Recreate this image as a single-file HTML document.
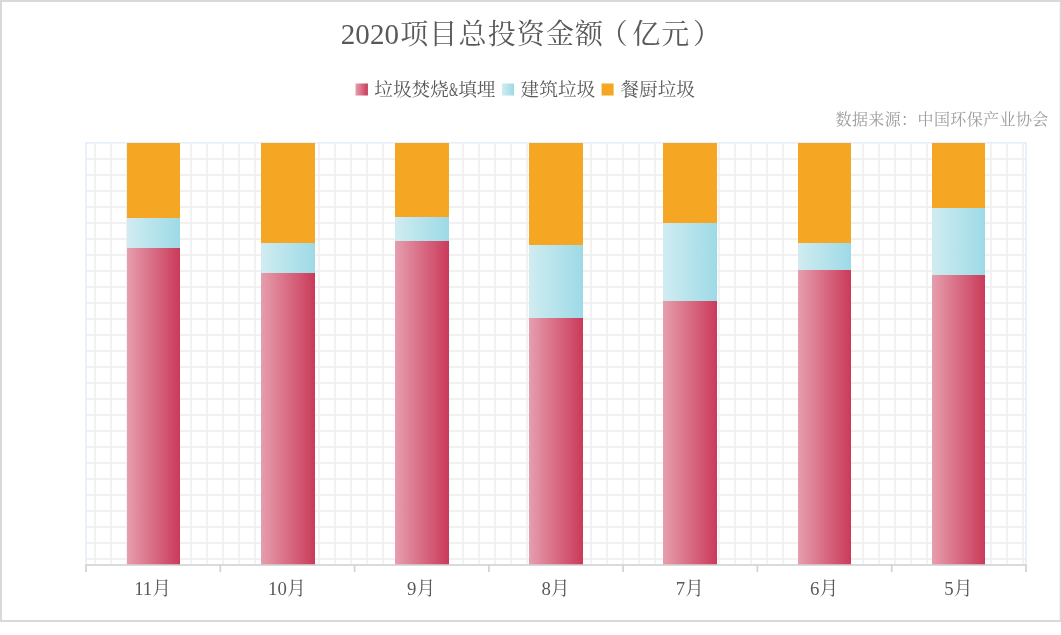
<!DOCTYPE html>
<html lang="zh-CN"><head><meta charset="utf-8"><title>2020项目总投资金额（亿元）</title>
<style>
html,body{margin:0;padding:0;background:#fff;}
body{width:1061px;height:635px;overflow:hidden;position:relative;}
svg{position:absolute;left:0;top:0;display:block;}
text{font-family:"Liberation Serif","Noto Serif CJK SC","Noto Sans CJK SC",serif;font-weight:400;}
.t{font-size:28px;fill:#595959;letter-spacing:1.15px;}
.l{font-size:18.67px;fill:#595959;}
.a{font-size:18.8px;fill:#595959;}
.s{font-size:16px;fill:#9c9c9c;letter-spacing:0.4px;font-weight:400;}
</style></head><body>
<svg width="1061" height="635" viewBox="0 0 1061 635">
<defs>
<linearGradient id="gr" x1="0" y1="0" x2="1" y2="0"><stop offset="0" stop-color="#e69eae"/><stop offset="1" stop-color="#ca3a5a"/></linearGradient>
<linearGradient id="gb" x1="0" y1="0" x2="1" y2="0"><stop offset="0" stop-color="#d0ecf1"/><stop offset="1" stop-color="#9ddae6"/></linearGradient>
</defs>
<rect x="0" y="0" width="1061" height="635" fill="#fff"/>
<path d="M95.0 142.8V565.0M111.0 142.8V565.0M127.0 142.8V565.0M143.0 142.8V565.0M159.0 142.8V565.0M175.0 142.8V565.0M191.0 142.8V565.0M207.0 142.8V565.0M223.0 142.8V565.0M239.0 142.8V565.0M255.0 142.8V565.0M271.0 142.8V565.0M287.0 142.8V565.0M303.0 142.8V565.0M319.0 142.8V565.0M335.0 142.8V565.0M351.0 142.8V565.0M367.0 142.8V565.0M383.0 142.8V565.0M399.0 142.8V565.0M415.0 142.8V565.0M431.0 142.8V565.0M447.0 142.8V565.0M463.0 142.8V565.0M479.0 142.8V565.0M495.0 142.8V565.0M511.0 142.8V565.0M527.0 142.8V565.0M543.0 142.8V565.0M559.0 142.8V565.0M575.0 142.8V565.0M591.0 142.8V565.0M607.0 142.8V565.0M623.0 142.8V565.0M639.0 142.8V565.0M655.0 142.8V565.0M671.0 142.8V565.0M687.0 142.8V565.0M703.0 142.8V565.0M719.0 142.8V565.0M735.0 142.8V565.0M751.0 142.8V565.0M767.0 142.8V565.0M783.0 142.8V565.0M799.0 142.8V565.0M815.0 142.8V565.0M831.0 142.8V565.0M847.0 142.8V565.0M863.0 142.8V565.0M879.0 142.8V565.0M895.0 142.8V565.0M911.0 142.8V565.0M927.0 142.8V565.0M943.0 142.8V565.0M959.0 142.8V565.0M975.0 142.8V565.0M991.0 142.8V565.0M1007.0 142.8V565.0M1023.0 142.8V565.0M86.0 159.0H1026.0M86.0 175.0H1026.0M86.0 191.0H1026.0M86.0 207.0H1026.0M86.0 223.0H1026.0M86.0 239.0H1026.0M86.0 255.0H1026.0M86.0 271.0H1026.0M86.0 287.0H1026.0M86.0 303.0H1026.0M86.0 319.0H1026.0M86.0 335.0H1026.0M86.0 351.0H1026.0M86.0 367.0H1026.0M86.0 383.0H1026.0M86.0 399.0H1026.0M86.0 415.0H1026.0M86.0 431.0H1026.0M86.0 447.0H1026.0M86.0 463.0H1026.0M86.0 479.0H1026.0M86.0 495.0H1026.0M86.0 511.0H1026.0M86.0 527.0H1026.0M86.0 543.0H1026.0M86.0 559.0H1026.0" stroke="#f1f1f1" stroke-width="1.8" fill="none"/>
<rect x="86.0" y="142.8" width="940.0" height="422.2" fill="none" stroke="#e6f0fa" stroke-width="1.8"/>
<rect x="127.0" y="143.0" width="53.0" height="75.0" fill="#f5a623"/><rect x="127.0" y="218.0" width="53.0" height="30.0" fill="url(#gb)"/><rect x="127.0" y="248.0" width="53.0" height="317.0" fill="url(#gr)"/>
<rect x="261.0" y="143.0" width="54.0" height="100.0" fill="#f5a623"/><rect x="261.0" y="243.0" width="54.0" height="30.0" fill="url(#gb)"/><rect x="261.0" y="273.0" width="54.0" height="292.0" fill="url(#gr)"/>
<rect x="395.0" y="143.0" width="54.0" height="74.0" fill="#f5a623"/><rect x="395.0" y="217.0" width="54.0" height="24.0" fill="url(#gb)"/><rect x="395.0" y="241.0" width="54.0" height="324.0" fill="url(#gr)"/>
<rect x="529.0" y="143.0" width="54.0" height="102.0" fill="#f5a623"/><rect x="529.0" y="245.0" width="54.0" height="73.0" fill="url(#gb)"/><rect x="529.0" y="318.0" width="54.0" height="247.0" fill="url(#gr)"/>
<rect x="663.0" y="143.0" width="54.0" height="80.0" fill="#f5a623"/><rect x="663.0" y="223.0" width="54.0" height="78.0" fill="url(#gb)"/><rect x="663.0" y="301.0" width="54.0" height="264.0" fill="url(#gr)"/>
<rect x="798.0" y="143.0" width="53.0" height="100.0" fill="#f5a623"/><rect x="798.0" y="243.0" width="53.0" height="27.0" fill="url(#gb)"/><rect x="798.0" y="270.0" width="53.0" height="295.0" fill="url(#gr)"/>
<rect x="932.0" y="143.0" width="53.0" height="65.0" fill="#f5a623"/><rect x="932.0" y="208.0" width="53.0" height="67.0" fill="url(#gb)"/><rect x="932.0" y="275.0" width="53.0" height="290.0" fill="url(#gr)"/>
<path d="M85.2 565.0H1026.8M86.0 565.0V572.0M220.3 565.0V572.0M354.6 565.0V572.0M488.9 565.0V572.0M623.1 565.0V572.0M757.4 565.0V572.0M891.7 565.0V572.0M1026.0 565.0V572.0" stroke="#d2d2d2" stroke-width="1.7" fill="none"/>
<text class="a" x="152.6" y="594.5" text-anchor="middle">11月</text><text class="a" x="286.9" y="594.5" text-anchor="middle">10月</text><text class="a" x="421.2" y="594.5" text-anchor="middle">9月</text><text class="a" x="555.5" y="594.5" text-anchor="middle">8月</text><text class="a" x="689.8" y="594.5" text-anchor="middle">7月</text><text class="a" x="824.1" y="594.5" text-anchor="middle">6月</text><text class="a" x="958.4" y="594.5" text-anchor="middle">5月</text>
<text class="t" x="340.8" y="44"><tspan font-size="29" letter-spacing="0.05">2020</tspan><tspan dx="1.2">项目总投资金额</tspan><tspan dx="-4.5">（</tspan><tspan dx="3.3">亿元</tspan><tspan dx="2.5">）</tspan></text>
<rect x="355.5" y="83.5" width="12.4" height="12" fill="url(#gr)"/><text class="l" x="374.3" y="95.7">垃圾焚烧<tspan textLength="9.2" lengthAdjust="spacingAndGlyphs">&amp;</tspan>填埋</text>
<rect x="502" y="83.5" width="12" height="12" fill="url(#gb)"/><text class="l" x="520.6" y="95.7">建筑垃圾</text>
<rect x="601.6" y="83.5" width="12" height="12" fill="#f5a623"/><text class="l" x="620.4" y="95.7">餐厨垃圾</text>
<text class="s" x="835.5" y="124.5">数据来源：中国环保产业协会</text>
<path d="M1 621V1H1060.7V621" stroke="#d9d9d9" stroke-width="2" fill="none"/><path d="M0 620.9H1061" stroke="#d9d9d9" stroke-width="2" fill="none"/>
</svg></body></html>
